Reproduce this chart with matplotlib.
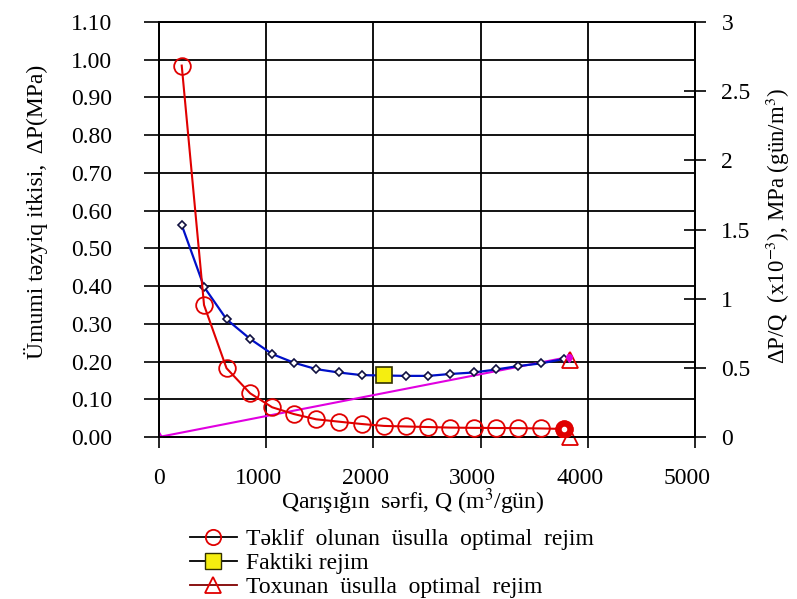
import numpy as np
import matplotlib

matplotlib.rcParams["font.family"] = ["Liberation Serif", "DejaVu Serif"]
matplotlib.rcParams["mathtext.fontset"] = "stix"

import matplotlib.pyplot as plt
import matplotlib.transforms as mtransforms
from matplotlib.lines import Line2D

# Qarışığın sərfi, Q (m3/gün)
q_points = [212, 420, 630, 850, 1055, 1258, 1465, 1676, 1890, 2100,
            2304, 2512, 2715, 2935, 3147, 3350, 3560, 3780]
# Ümumi təzyiq itkisi, ΔP (MPa) - göy əyri
dp_values = [0.562, 0.398, 0.312, 0.260, 0.220, 0.197, 0.180, 0.171, 0.164, 0.163,
             0.162, 0.162, 0.167, 0.171, 0.179, 0.188, 0.195, 0.207]
# ΔP/Q (x10^-3) - qırmızı əyri (sağ ox)
dpq_values = [2.685, 0.954, 0.497, 0.316, 0.215, 0.166, 0.128, 0.111, 0.094, 0.080,
              0.076, 0.072, 0.068, 0.066, 0.065, 0.064, 0.062, 0.058]
# toxunan xətt (koordinat başlanğıcından)
tangent_q = [0, 3820]
tangent_dp = [0, 0.212]
# faktiki rejim
fact_q = [2100]
fact_dp = [0.164]
# toxunan üsulla optimal rejim
tang_opt_q = [3834, 3834]
tang_opt_dp = [0.204, 0.0]

TXT = 17
fig = plt.figure(figsize=(7.97, 5.99), dpi=100)
ax = fig.add_axes([159 / 797, 1 - 437 / 599, (695 - 159) / 797, (437 - 22) / 599])
ax2 = ax.twinx()

ax.set_xlim(0, 5000)
ax.set_ylim(0, 1.10)
ax2.set_ylim(0, 3)

ax.set_xticks(np.arange(0, 5001, 1000))
ax.set_yticks(np.arange(0, 1.101, 0.1))
ax.set_yticklabels([f"{v:.2f}" for v in np.arange(0, 1.101, 0.1)])
ax2.set_yticks(np.arange(0, 3.01, 0.5))
ax2.set_yticklabels(["0", "0.5", "1", "1.5", "2", "2.5", "3"])

ax.grid(True, color="black", linewidth=1.3)
ax.set_axisbelow(True)
for sp in list(ax.spines.values()) + list(ax2.spines.values()):
    sp.set_linewidth(1.3)

ax.tick_params(axis="y", direction="out", length=11, width=1.2, labelsize=TXT, pad=23)
ax.tick_params(axis="x", direction="out", length=8, width=1.2, labelsize=TXT, pad=14)
ax2.tick_params(axis="y", direction="inout", length=16, width=1.2, labelsize=TXT, pad=11)

# x tick labels in the reference sit a little left of their ticks
shift = mtransforms.ScaledTranslation(-8 / 100, 0, fig.dpi_scale_trans)
for lab in ax.get_xticklabels()[1:]:
    lab.set_transform(lab.get_transform() + shift)

# tangent line
ax.plot(tangent_q, tangent_dp, color="#E000E0", linewidth=1.5, marker="d",
        markersize=5, zorder=3)
# blue ΔP curve
ax.plot(q_points, dp_values, color="#0010C8", linewidth=1.6, marker="D", markersize=4,
        markerfacecolor="white", markeredgecolor="#101040", markeredgewidth=1.2, zorder=4)
# red ΔP/Q curve
ax2.plot(q_points, dpq_values, color="#E00000", linewidth=1.5, marker="o", markersize=12,
         markerfacecolor="none", markeredgecolor="#E00000", markeredgewidth=1.3, zorder=5)
ax2.plot(q_points[-1:], dpq_values[-1:], linestyle="none", marker="o", markersize=12,
         markerfacecolor="#E00000", markeredgecolor="#E00000", zorder=6)
ax2.plot(q_points[-1:], dpq_values[-1:], linestyle="none", marker="o", markersize=3,
         color="white", zorder=6)
# actual regime
ax.plot(fact_q, fact_dp, linestyle="none", marker="s", markersize=11,
        markerfacecolor="#F5EE10", markeredgecolor="#303000", markeredgewidth=1.2, zorder=7)
# tangent-method optimum
ax.plot(tang_opt_q, tang_opt_dp, linestyle="none", marker="^", markersize=11,
        markerfacecolor="none", markeredgecolor="#E00000", markeredgewidth=1.3,
        zorder=7, clip_on=False)
ax.plot(tangent_q[-1:], tangent_dp[-1:], linestyle="none", marker="o", markersize=4,
        color="#E000E0", zorder=8)

ax.set_xlabel("Qarışığın  sərfi, Q (m$^3$/gün)", fontsize=TXT)
ax.xaxis.set_label_coords(0.474, -0.12)
ax.set_ylabel("Ümumi təzyiq itkisi,  ΔP(MPa)", fontsize=TXT)
ax.yaxis.set_label_coords(-0.207, 0.542)
ax2.set_ylabel("ΔP/Q  (x10$^{-3}$), MPa (gün/m$^3$)", fontsize=16.5)
ax2.yaxis.set_label_coords(1.128, 0.508)

handles = [
    Line2D([], [], color="black", linewidth=1.3, marker="o", markersize=11,
           markerfacecolor="none", markeredgecolor="#E00000", markeredgewidth=1.3),
    Line2D([], [], color="black", linewidth=1.3, marker="s", markersize=11,
           markerfacecolor="#F5EE10", markeredgecolor="#303000"),
    Line2D([], [], color="#800000", linewidth=1.3, marker="^", markersize=11,
           markerfacecolor="none", markeredgecolor="#E00000", markeredgewidth=1.3),
]
labels = ["Təklif  olunan  üsulla  optimal  rejim", "Faktiki rejim",
          "Toxunan  üsulla  optimal  rejim"]
fig.legend(handles, labels, loc="upper left", bbox_to_anchor=(178 / 797, 1 - 517 / 599),
           frameon=False, fontsize=TXT, handlelength=2.0, handletextpad=0.4,
           labelspacing=0.1, borderpad=0)

fig.savefig("out.png", dpi=100)
